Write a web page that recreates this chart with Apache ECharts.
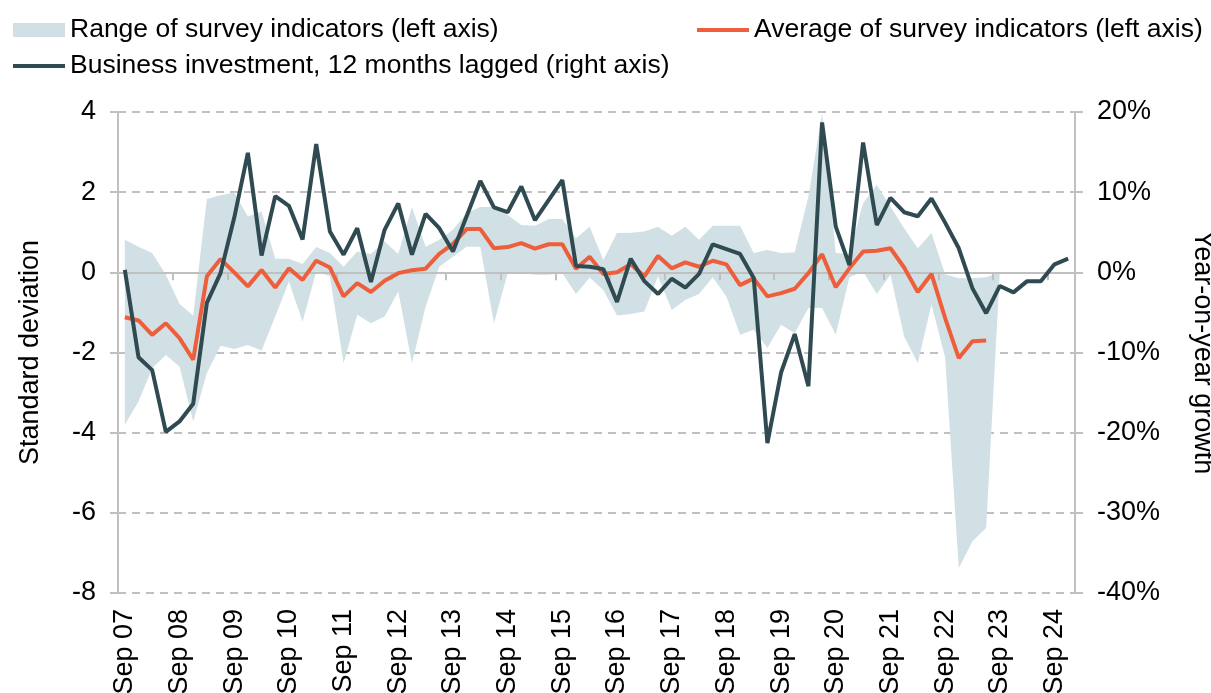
<!DOCTYPE html>
<html><head><meta charset="utf-8">
<script src="https://cdn.jsdelivr.net/npm/echarts@6/dist/echarts.min.js"></script>
<style>html,body{margin:0;padding:0;background:#fff}#c{width:1211px;height:693px}</style>
</head><body><div id="c"></div>
<script>
// Tick labels (one per year, every 4th quarter)
const yearLabels = ['Sep 07','Sep 08','Sep 09','Sep 10','Sep 11','Sep 12','Sep 13','Sep 14','Sep 15',
  'Sep 16','Sep 17','Sep 18','Sep 19','Sep 20','Sep 21','Sep 22','Sep 23','Sep 24'];
// Quarterly categories Sep 07 .. Dec 24 (70 quarters)
const categories = [];
yearLabels.forEach(function (lab) {
  const yy = parseInt(lab.slice(4), 10);
  const n = function (v) { return (v < 10 ? '0' : '') + v; };
  categories.push(lab, 'Dec ' + n(yy), 'Mar ' + n(yy + 1), 'Jun ' + n(yy + 1));
});
categories.length = 70;

// Range of survey indicators (standard deviations): upper and lower bounds
const rangeUpper = [0.81,0.64,0.48,-0.06,-0.79,-1.08,1.83,1.92,1.99,1.39,1.52,0.34,0.34,0.21,0.63,0.48,
  0.14,0.52,0.46,0.77,0.46,1.63,0.64,0.81,1.06,1.48,1.63,1.63,1.43,1.18,1.16,1.33,1.33,0.85,1.14,0.31,
  0.98,0.99,1.02,1.14,0.91,1.14,0.81,1.16,1.16,1.16,0.48,0.56,0.48,0.50,1.89,3.97,0.48,0.46,1.73,2.18,
  1.64,1.10,0.60,0.98,-0.05,-0.15,-0.15,-0.12,0];
const rangeLower = [-3.80,-3.22,-2.39,-2.06,-2.35,-3.72,-2.51,-1.83,-1.91,-1.81,-1.95,-1.10,-0.23,-1.23,0.02,-0.10,
  -2.27,-1.06,-1.27,-1.10,-0.48,-2.27,-0.85,0.14,0.39,0.64,0.64,-1.27,-0.02,0.00,-0.06,-0.06,-0.02,-0.54,-0.13,-0.44,
  -1.08,-1.04,-0.98,-0.10,-0.94,-0.69,-0.54,-0.12,-0.60,-1.56,-1.43,-1.89,-1.31,-1.52,-0.89,-0.89,-1.56,-0.12,0.02,-0.54,
  -0.06,-1.60,-2.27,-0.80,-2.12,-7.38,-6.71,-6.38,0];
// Average of survey indicators (standard deviations)
const surveyAverage = [-1.12,-1.20,-1.56,-1.27,-1.64,-2.18,-0.10,0.33,0.00,-0.35,0.06,-0.38,0.10,-0.19,0.29,0.12,
  -0.60,-0.27,-0.49,-0.21,-0.02,0.05,0.09,0.46,0.71,1.08,1.08,0.60,0.63,0.73,0.59,0.70,0.70,0.09,0.39,-0.04,
  0.00,0.20,-0.10,0.41,0.10,0.25,0.14,0.29,0.20,-0.32,-0.15,-0.60,-0.52,-0.41,-0.02,0.45,-0.37,0.10,0.52,0.54,
  0.60,0.12,-0.49,-0.04,-1.14,-2.14,-1.72,-1.70];
// Business investment, 12 months lagged (% year-on-year)
const businessInvestment = [0.3,-10.6,-12.2,-19.9,-18.6,-16.4,-3.8,-0.1,6.8,14.9,2.1,9.5,8.3,4.1,16.0,5.1,
  2.2,5.5,-1.2,5.3,8.6,2.2,7.3,5.5,2.6,7.0,11.4,8.1,7.5,10.7,6.5,9.0,11.5,0.8,0.7,0.4,
  -3.7,1.7,-1.1,-2.7,-0.8,-1.9,-0.2,3.5,2.9,2.3,-0.7,-21.3,-12.5,-7.7,-14.2,18.7,5.7,0.9,16.2,5.9,
  9.3,7.5,7.0,9.2,6.2,3.0,-2.0,-5.1,-1.7,-2.5,-1.1,-1.1,1.0,1.7];
const leftTicks = { min: -8, max: 4, interval: 2 };
const rightTicks = { min: -40, max: 20, interval: 10 };

const rangeWidth = rangeUpper.map(function (u, i) { return +(u - rangeLower[i]).toFixed(3); });

const FONT = 'Liberation Sans, Arial, sans-serif';
const BLUE = '#d1e0e5', ORANGE = '#ee5e3b', DARK = '#2f4a50', GREY = '#c0c0c0';
const NAME_RANGE = 'Range of survey indicators (left axis)';
const NAME_AVG = 'Average of survey indicators (left axis)';
const NAME_INV = 'Business investment, 12 months lagged (right axis)';
const LINE_ICON = 'path://M0,0H52V4H0Z';
const LFS = 26.5, AFS = 27;

const chart = echarts.init(document.getElementById('c'), null, { renderer: 'canvas' });
chart.setOption({
  animation: false,
  textStyle: { fontFamily: FONT },
  legend: [{
    left: 13, top: 15, padding: 0, orient: 'vertical', itemGap: 6,
    itemWidth: 52, itemHeight: 14, symbolKeepAspect: true,
    textStyle: { fontSize: LFS, color: '#000', fontFamily: FONT, lineHeight: 30 },
    data: [{ name: NAME_RANGE, icon: 'rect' }, { name: NAME_INV, icon: LINE_ICON }],
    selectedMode: false
  }, {
    left: 697, top: 15, padding: 0, orient: 'vertical',
    itemWidth: 52, itemHeight: 14, symbolKeepAspect: true,
    textStyle: { fontSize: LFS, color: '#000', fontFamily: FONT, lineHeight: 30 },
    data: [{ name: NAME_AVG, icon: LINE_ICON }],
    selectedMode: false
  }],
  grid: { left: 118, right: 136, top: 112, bottom: 100, containLabel: false, outerBoundsMode: 'none' },
  xAxis: [{
    type: 'category', data: categories, boundaryGap: true, position: 'bottom',
    axisLine: { show: false, onZero: false }, axisTick: { show: false }, splitLine: { show: false },
    axisLabel: { interval: 3, rotate: 90, margin: 16, fontSize: AFS, color: '#000', fontFamily: FONT }
  }, {
    type: 'category', data: categories, boundaryGap: true, position: 'bottom', z: 2,
    axisLine: { show: true, onZero: true, onZeroAxisIndex: 0, lineStyle: { color: GREY, width: 2 } },
    axisTick: { show: true, interval: 3, length: 8, lineStyle: { color: GREY, width: 2 } },
    axisLabel: { show: false }, splitLine: { show: false }
  }],
  yAxis: [{
    type: 'value', position: 'left', min: leftTicks.min, max: leftTicks.max, interval: leftTicks.interval,
    name: 'Standard deviation', nameLocation: 'middle', nameRotate: 90, nameGap: 74, nameMoveOverlap: false,
    nameTextStyle: { fontSize: AFS, color: '#000', fontFamily: FONT },
    axisLine: { show: true, lineStyle: { color: GREY, width: 2 } },
    axisTick: { show: true, length: 8, lineStyle: { color: GREY, width: 2 } },
    axisLabel: { fontSize: AFS, color: '#000', margin: 22, fontFamily: FONT },
    splitLine: { show: true, lineStyle: { color: GREY, width: 2, type: [8, 6] } }
  }, {
    type: 'value', position: 'right', min: rightTicks.min, max: rightTicks.max, interval: rightTicks.interval,
    name: 'Year-on-year growth', nameLocation: 'middle', nameRotate: -90, nameGap: 114, nameMoveOverlap: false,
    nameTextStyle: { fontSize: AFS, color: '#000', fontFamily: FONT },
    axisLine: { show: true, lineStyle: { color: GREY, width: 2 } },
    axisTick: { show: true, length: 8, lineStyle: { color: GREY, width: 2 } },
    axisLabel: { fontSize: AFS, color: '#000', margin: 22, formatter: '{value}%', fontFamily: FONT },
    splitLine: { show: false }
  }],
  series: [{
    name: '_base', type: 'line', data: rangeLower, stack: 'range', stackStrategy: 'all',
    symbol: 'none', silent: true, z: 1, lineStyle: { width: 0, opacity: 0 }, itemStyle: { color: BLUE }
  }, {
    name: NAME_RANGE, type: 'line', data: rangeWidth, stack: 'range', stackStrategy: 'all',
    symbol: 'none', silent: true, z: 1, lineStyle: { width: 0, opacity: 0 },
    itemStyle: { color: BLUE }, areaStyle: { color: BLUE, opacity: 1 }
  }, {
    name: NAME_AVG, type: 'line', data: surveyAverage, symbol: 'none', showSymbol: false, z: 3,
    lineStyle: { color: ORANGE, width: 4 }, itemStyle: { color: ORANGE }
  }, {
    name: NAME_INV, type: 'line', data: businessInvestment, yAxisIndex: 1, symbol: 'none', showSymbol: false, z: 4,
    lineStyle: { color: DARK, width: 4 }, itemStyle: { color: DARK }
  }]
});
</script>
</body></html>
